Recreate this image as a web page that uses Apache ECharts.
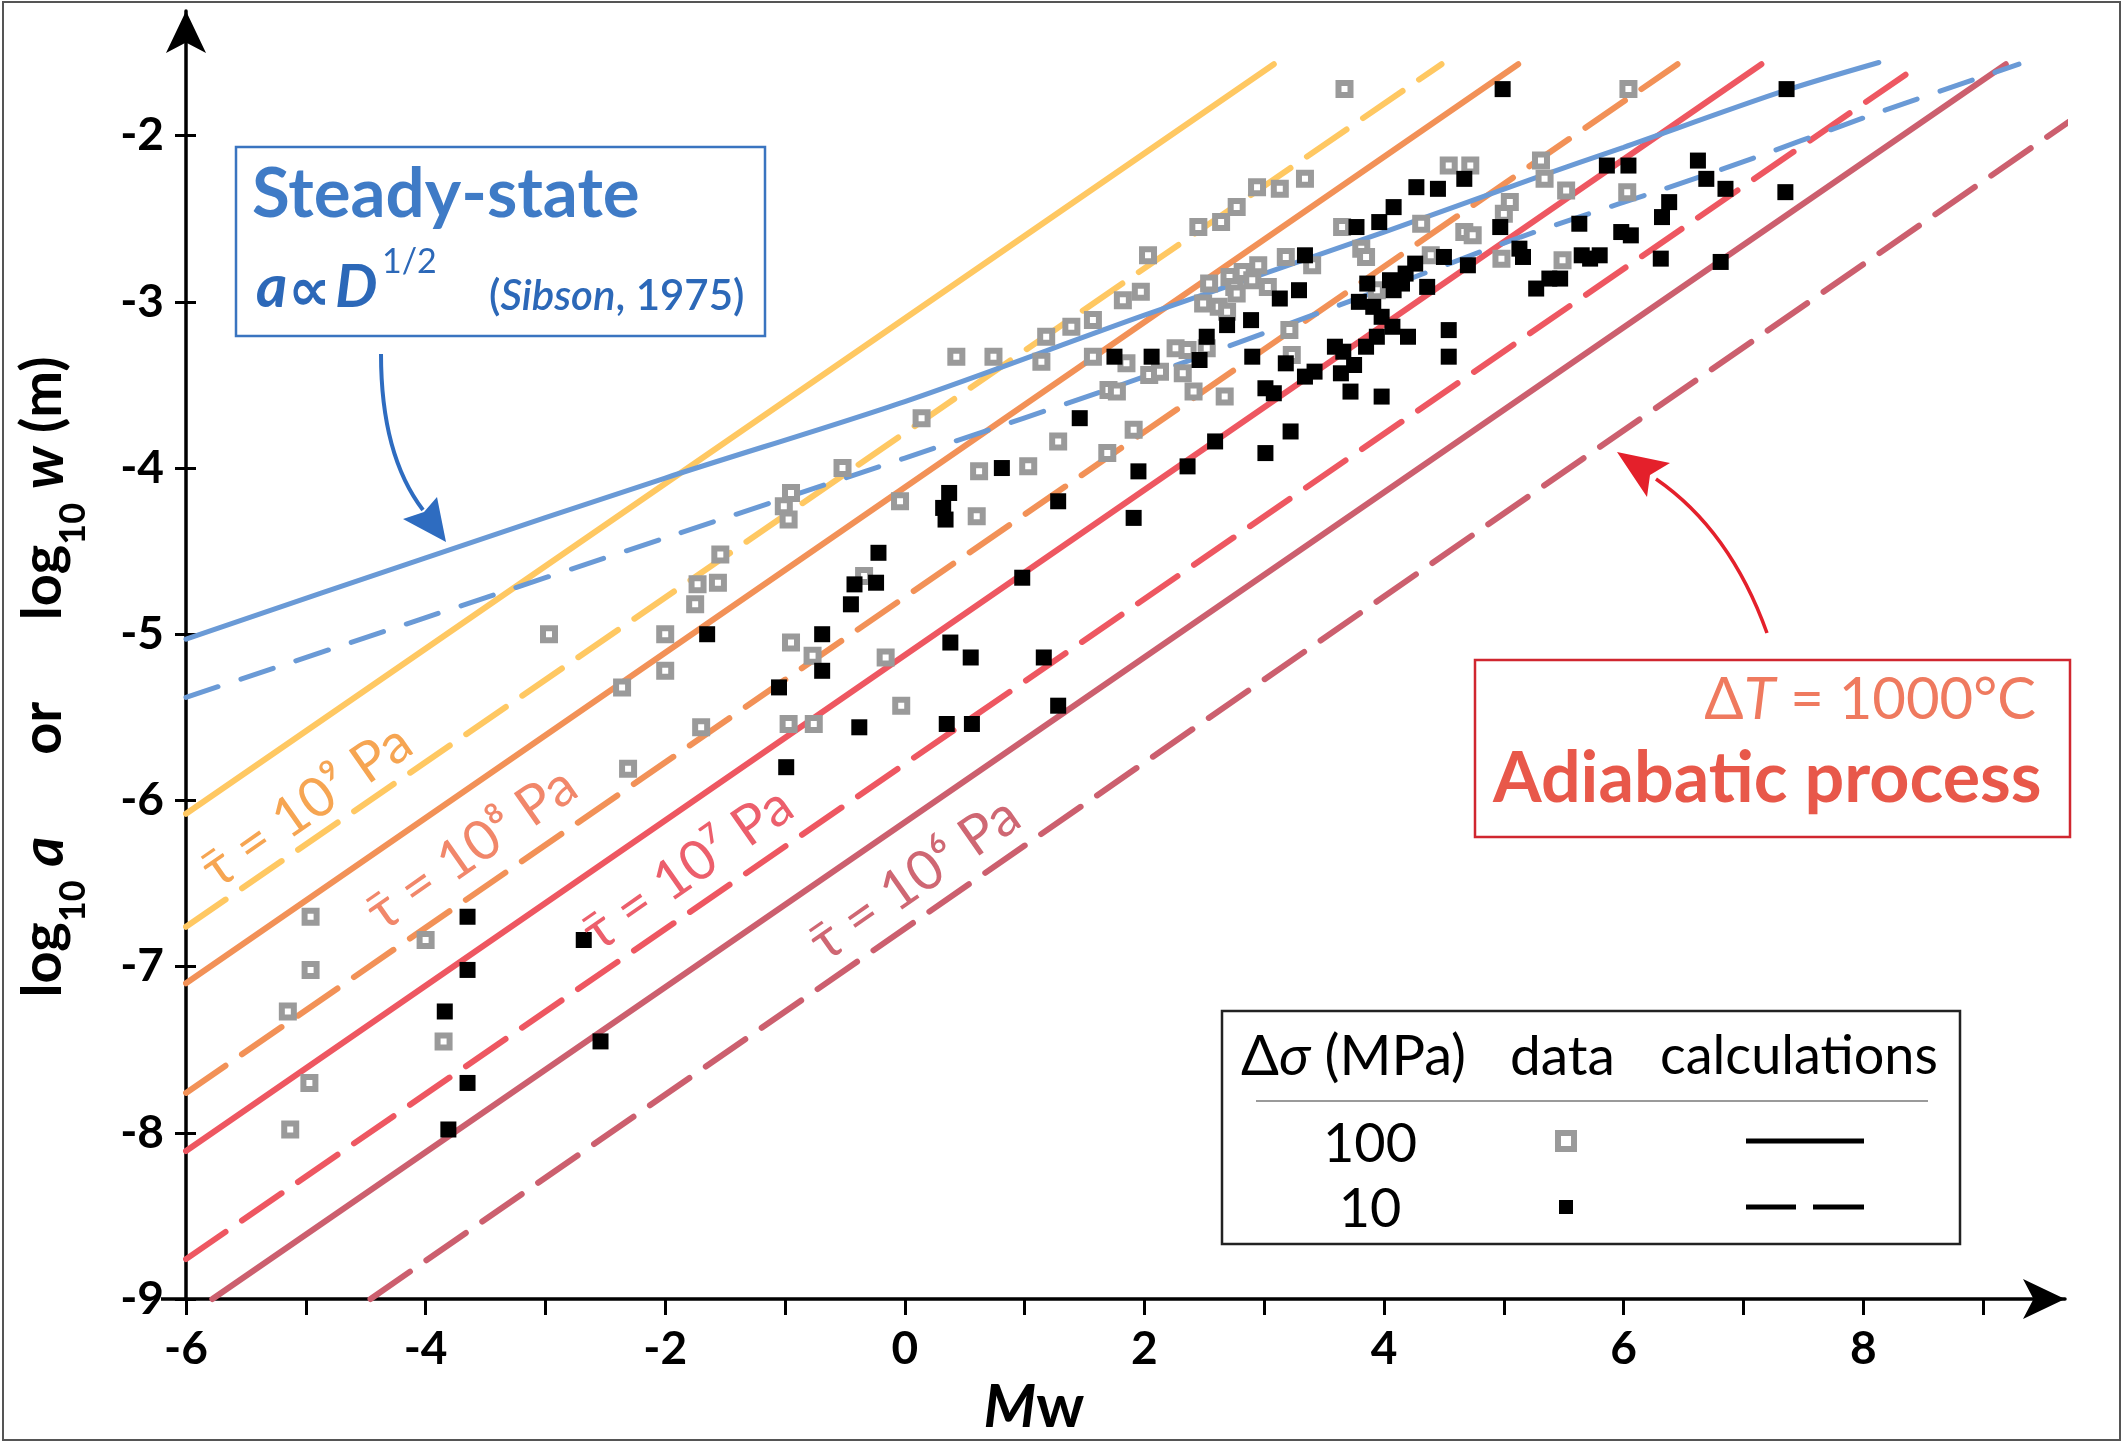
<!DOCTYPE html>
<html>
<head>
<meta charset="utf-8">
<script src="https://cdn.jsdelivr.net/npm/echarts@6.0.0/dist/echarts.min.js"></script>
<style>html,body{margin:0;padding:0;background:#fff;}#chart{width:2128px;height:1447px;}</style>
</head>
<body>
<div id="chart"></div>
<script>
// ---------------- data ----------------
const xTicks = [-6,-5,-4,-3,-2,-1,0,1,2,3,4,5,6,7,8,9];
const xTickLabels = [-6,-4,-2,0,2,4,6,8];
const yTicks = [-9,-8,-7,-6,-5,-4,-3,-2];

// data, Δσ = 100 MPa (grey open squares)  [Mw, log10 a]
const data100 = [
[-5.15,-7.27],[-5.13,-7.98],[-4.96,-6.70],[-4.96,-7.02],[-4.97,-7.70],[-4.00,-6.84],[-3.85,-7.45],
[-2.97,-5.00],[-2.36,-5.32],[-2.31,-5.81],[-2.00,-5.00],[-2.00,-5.22],[-1.75,-4.82],[-1.73,-4.70],[-1.56,-4.69],[-1.54,-4.52],[-1.70,-5.56],
[-1.01,-4.23],[-0.97,-4.31],[-0.95,-4.15],[-0.95,-5.05],[-0.97,-5.54],[-0.77,-5.13],[-0.76,-5.54],[-0.52,-4.00],[-0.34,-4.65],[-0.16,-5.14],[-0.04,-4.20],[-0.03,-5.43],
[0.14,-3.70],[0.43,-3.33],[0.60,-4.29],[0.62,-4.02],[0.74,-3.33],[1.03,-3.99],[1.14,-3.36],[1.18,-3.21],[1.28,-3.84],[1.39,-3.15],[1.57,-3.11],[1.57,-3.33],
[1.69,-3.91],[1.70,-3.53],[1.77,-3.54],[1.82,-2.99],[1.85,-3.37],[1.91,-3.77],[1.97,-2.94],[2.03,-2.72],[2.04,-3.44],[2.13,-3.42],[2.26,-3.28],[2.32,-3.43],
[2.36,-3.29],[2.41,-3.54],[2.45,-2.55],[2.49,-3.01],[2.52,-3.28],[2.54,-2.89],[2.62,-3.03],[2.64,-2.52],[2.67,-3.57],[2.69,-3.06],[2.71,-2.85],[2.75,-2.91],
[2.77,-2.43],[2.77,-2.95],[2.82,-2.82],[2.90,-2.87],[2.94,-2.31],[2.95,-2.78],[3.03,-2.91],[3.13,-2.32],[3.18,-2.73],[3.21,-3.17],[3.23,-3.32],[3.34,-2.26],
[3.40,-2.78],[3.65,-2.55],[3.67,-1.72],[3.81,-2.68],[3.85,-2.73],[3.94,-2.93],[4.31,-2.53],[4.39,-2.72],[4.54,-2.18],[4.67,-2.58],[4.72,-2.18],[4.74,-2.60],
[4.98,-2.74],[5.00,-2.47],[5.05,-2.40],[5.31,-2.15],[5.34,-2.26],[5.49,-2.75],[5.52,-2.33],[6.03,-2.34],[6.04,-1.72]
];

// data, Δσ = 10 MPa (black squares)
const data10 = [
[-3.65,-6.70],[-2.68,-6.84],[-3.65,-7.02],[-3.84,-7.27],[-2.54,-7.45],[-3.65,-7.70],[-3.81,-7.98],
[-1.65,-5.00],[-1.05,-5.32],[-0.99,-5.80],[-0.69,-5.00],[-0.69,-5.22],[-0.45,-4.82],[-0.42,-4.70],[-0.38,-5.56],[-0.24,-4.69],[-0.22,-4.51],
[0.32,-4.24],[0.34,-4.31],[0.37,-4.15],[0.38,-5.05],[0.35,-5.54],[0.55,-5.14],[0.56,-5.54],[0.81,-4.00],[0.98,-4.66],[1.16,-5.14],[1.28,-4.20],[1.28,-5.43],
[1.46,-3.70],[1.75,-3.33],[1.91,-4.30],[1.95,-4.02],[2.06,-3.33],[2.36,-3.99],[2.46,-3.35],[2.52,-3.21],[2.59,-3.84],[2.69,-3.14],[2.89,-3.11],[2.90,-3.33],
[3.01,-3.52],[3.01,-3.91],[3.08,-3.55],[3.13,-2.98],[3.18,-3.37],[3.22,-3.78],[3.29,-2.93],[3.34,-2.72],[3.34,-3.45],[3.42,-3.42],[3.59,-3.27],[3.64,-3.43],
[3.66,-3.30],[3.72,-3.54],[3.75,-3.38],[3.77,-2.55],[3.79,-3.00],[3.85,-3.27],[3.86,-2.89],[3.91,-3.03],[3.94,-3.21],[3.96,-2.52],[3.98,-3.09],[3.98,-3.57],
[4.05,-2.87],[4.07,-3.15],[4.08,-2.43],[4.08,-2.93],[4.15,-2.89],[4.18,-2.83],[4.20,-3.21],[4.26,-2.77],[4.27,-2.31],[4.36,-2.91],[4.45,-2.32],[4.50,-2.73],
[4.54,-3.17],[4.54,-3.33],[4.67,-2.26],[4.70,-2.78],[4.97,-2.55],[4.99,-1.72],[5.13,-2.68],[5.16,-2.73],[5.27,-2.92],[5.38,-2.86],[5.47,-2.86],[5.63,-2.53],
[5.65,-2.72],[5.72,-2.74],[5.80,-2.72],[5.86,-2.18],[5.98,-2.58],[6.04,-2.18],[6.06,-2.60],[6.31,-2.74],[6.32,-2.49],[6.38,-2.40],[6.62,-2.15],[6.69,-2.26],
[6.81,-2.76],[6.85,-2.32],[7.35,-2.34],[7.36,-1.72]
];

// adiabatic calculations (end points of straight lines), solid = 100 MPa, dashed = 10 MPa
const tau9_100 = [[-6,-6.08],[3.08,-1.57]];
const tau9_10  = [[-6,-6.76],[4.48,-1.57]];
const tau8_100 = [[-6,-7.10],[5.12,-1.57]];
const tau8_10  = [[-6,-7.76],[6.45,-1.57]];
const tau7_100 = [[-6,-8.11],[7.15,-1.57]];
const tau7_10  = [[-6,-8.76],[8.48,-1.57]];
const tau6_100 = [[-5.78,-9],[9.19,-1.57]];
const tau6_10  = [[-4.46,-9],[9.89,-1.83]];

// steady-state (Sibson, 1975) curves
const steady100 = [[-6,-5.03],[-4,-4.54],[-2,-4.06],[0,-3.60],[2,-3.08],[4,-2.58],[5.28,-2.25],[6,-2.07],[7.3,-1.74],[8.13,-1.56]];
const steady10  = [[-6,-5.38],[-4,-4.90],[-2,-4.42],[0,-3.94],[2,-3.45],[4,-2.92],[5.14,-2.61],[6.79,-2.21],[8.17,-1.85],[9.30,-1.57]];

const tauLabels = ['τ\u0304 = 10⁹ Pa','τ\u0304 = 10⁸ Pa','τ\u0304 = 10⁷ Pa','τ\u0304 = 10⁶ Pa'];

// ---------------- styling ----------------
const FONT = 'Lato, "Noto Sans", "DejaVu Sans", sans-serif';
const C = {yellow:'#FFC862', orange:'#F29157', red:'#EE5761', rose:'#CC5F6E', blue:'#6A9AD6'};
const LBL = ['#F6A552','#F1876A','#EC5F6C','#CF6773'];
const DASH = [48, 20];

function calcLine(name, data, color, dashed){
  return {type:'line', name, data, showSymbol:false, silent:true, clip:false, z:2, animation:false,
    lineStyle:{color, width:6, type: dashed ? DASH : 'solid', cap:'round'}};
}
function steadyLine(name, data, dashed){
  return {type:'line', name, data, showSymbol:false, silent:true, clip:false, z:3, animation:false, smooth:0.3,
    lineStyle:{color:C.blue, width:5, type: dashed ? [34,24] : 'solid', cap:'round'}};
}

const chart = echarts.init(document.getElementById('chart'), null, {renderer:'canvas', width:2128, height:1447});

const axisLineStyle = {color:'#000', width:3.5};
const labelStyle = {fontFamily:FONT, fontWeight:'bold', fontSize:46, color:'#000'};

function txt(x, y, text, opts){
  return Object.assign({type:'text', x, y, silent:true, z:100,
    style:Object.assign({text, fill:'#000', fontFamily:FONT, fontSize:40,
      align:'left', verticalAlign:'middle', textAlign:'left', textVerticalAlign:'middle'}, opts.style||{})},
    opts.rotation!=null?{rotation:opts.rotation}:{});
}

const graphics = [
  // outer frame
  {type:'rect', shape:{x:3,y:2,width:2117,height:1438}, style:{fill:'none', stroke:'#555', lineWidth:2}, silent:true, z:0},
  // x axis stub left of the y axis
  {type:'line', shape:{x1:161,y1:1299,x2:186,y2:1299}, style:{stroke:'#000', lineWidth:3.5}, silent:true, z:50},

  // Steady-state box
  {type:'rect', shape:{x:236,y:147,width:529,height:189}, style:{fill:'#fff', stroke:'#3A74C0', lineWidth:2.5}, silent:true, z:90},
  txt(252, 195, 'Steady-state', {style:{fill:'#3F7BC6', fontSize:69, fontWeight:'bold'}}),
  txt(256, 288, 'a', {style:{fill:'#2C68B8', fontSize:60, fontWeight:'bold', fontStyle:'italic'}}),
  txt(288, 291, '∝', {style:{fill:'#2C68B8', fontSize:60, fontWeight:'bold', fontStyle:'italic'}}),
  txt(335, 288, 'D', {style:{fill:'#2C68B8', fontSize:60, fontWeight:'bold', fontStyle:'italic'}}),
  txt(382, 262, '1/2', {style:{fill:'#2C68B8', fontSize:34}}),
  txt(489, 296, '{p|(}{i|Sibson}{p|, 1975)}', {style:{fill:'#2C68B8', fontSize:42, fontWeight:600,
      rich:{p:{fontFamily:FONT, fontSize:42, fontWeight:600, fill:'#2C68B8'}, i:{fontFamily:FONT, fontSize:42, fontWeight:600, fontStyle:'italic', fill:'#2C68B8'}}}}),
  // blue arrow
  {type:'bezierCurve', shape:{x1:381,y1:354,cpx1:381,cpy1:455,x2:423,y2:510}, style:{fill:'none', stroke:'#2E6CC0', lineWidth:4}, silent:true, z:95},
  {type:'polygon', shape:{points:[[446,542],[403,519],[424,512],[437,497]]}, style:{fill:'#2E6CC0'}, silent:true, z:95},

  // Adiabatic box
  {type:'rect', shape:{x:1475,y:660,width:595,height:177}, style:{fill:'#fff', stroke:'#D0262F', lineWidth:2.5}, silent:true, z:90},
  txt(2036, 700, '{d|Δ}{t|T}{d| = 1000°C}', {style:{align:'right', textAlign:'right', fill:'#EF7A5F', fontSize:58,
      rich:{d:{fontFamily:FONT, fontSize:58, fill:'#EF7A5F'}, t:{fontFamily:FONT, fontSize:58, fontStyle:'italic', fill:'#EF7A5F'}}}}),
  txt(1493, 779, 'Adiabatic process', {style:{fill:'#E8584A', fontSize:70, fontWeight:'bold'}}),
  // red arrow
  {type:'bezierCurve', shape:{x1:1767,y1:633,cpx1:1730,cpy1:530,x2:1656,y2:479}, style:{fill:'none', stroke:'#E4202B', lineWidth:3.5}, silent:true, z:95},
  {type:'polygon', shape:{points:[[1617,452],[1670,463],[1650,475],[1647,497]]}, style:{fill:'#E4202B'}, silent:true, z:95},

  // tau labels along the lines
  txt(307, 806, tauLabels[0], {rotation:0.61, style:{align:'center', textAlign:'center', fill:LBL[0], fontSize:55}}),
  txt(472, 849, tauLabels[1], {rotation:0.61, style:{align:'center', textAlign:'center', fill:LBL[1], fontSize:55}}),
  txt(688, 869, tauLabels[2], {rotation:0.61, style:{align:'center', textAlign:'center', fill:LBL[2], fontSize:55}}),
  txt(915, 879, tauLabels[3], {rotation:0.61, style:{align:'center', textAlign:'center', fill:LBL[3], fontSize:55}}),

  // legend table
  {type:'rect', shape:{x:1222,y:1011,width:738,height:233}, style:{fill:'#fff', stroke:'#222', lineWidth:2.5}, silent:true, z:90},
  txt(1241, 1057, '{n|Δ}{s|σ}{n| (MPa)}', {style:{fontSize:56, rich:{n:{fontFamily:FONT, fontSize:56, fill:'#000'}, s:{fontFamily:FONT, fontSize:56, fontStyle:'italic', fill:'#000'}}}}),
  txt(1510, 1057, 'data', {style:{fontSize:55}}),
  txt(1660, 1057, 'calculations', {style:{fontSize:54}}),
  {type:'line', shape:{x1:1256,y1:1101,x2:1928,y2:1101}, style:{stroke:'#9a9a9a', lineWidth:2}, silent:true, z:95},
  txt(1370, 1145, '100', {style:{align:'center', textAlign:'center', fontSize:54}}),
  txt(1370, 1210, '10', {style:{align:'center', textAlign:'center', fontSize:54}}),
  {type:'rect', shape:{x:1558,y:1133,width:16,height:16}, style:{fill:'#fff', stroke:'#9a9a9a', lineWidth:6}, silent:true, z:95},
  {type:'rect', shape:{x:1559,y:1200,width:14,height:14}, style:{fill:'#000'}, silent:true, z:95},
  {type:'line', shape:{x1:1746,y1:1141,x2:1864,y2:1141}, style:{stroke:'#000', lineWidth:5}, silent:true, z:95},
  {type:'line', shape:{x1:1746,y1:1207,x2:1796,y2:1207}, style:{stroke:'#000', lineWidth:5}, silent:true, z:95},
  {type:'line', shape:{x1:1813,y1:1207,x2:1864,y2:1207}, style:{stroke:'#000', lineWidth:5}, silent:true, z:95},

  // axis titles
  txt(1034, 1408, '{m|M}{w|w}', {style:{align:'center', textAlign:'center', fontSize:60,
      rich:{m:{fontFamily:FONT, fontSize:60, fontWeight:'bold', fontStyle:'italic', fill:'#000'}, w:{fontFamily:FONT, fontSize:60, fontWeight:'bold', fill:'#000'}}}}),
  txt(47, 677, '{m|log}{s|10}{m| }{i|a}{m|      or      log}{s|10}{m| }{i|w}{m| (m)}', {rotation:Math.PI/2, style:{align:'center', textAlign:'center', fontSize:56,
      rich:{
        m:{fontFamily:FONT, fontSize:56, fontWeight:'bold', fill:'#000', lineHeight:64, verticalAlign:'top'},
        i:{fontFamily:FONT, fontSize:58, fontWeight:'bold', fontStyle:'italic', fill:'#000', lineHeight:64, verticalAlign:'top'},
        s:{fontFamily:FONT, fontSize:36, fontWeight:'bold', fill:'#000', lineHeight:36, verticalAlign:'top', padding:[40,0,0,0]}
      }}})
];

const option = {
  animation:false,
  backgroundColor:'#fff',
  grid:{left:186, right:63, top:11, bottom:148, containLabel:false},
  xAxis:{type:'value', min:-6, max:9.684,
    axisLine:{onZero:false, lineStyle:axisLineStyle, symbol:['none','arrow'], symbolSize:[30,42]},
    axisTick:{show:true, customValues:xTicks, length:16, lineStyle:{color:'#000', width:3}},
    axisLabel:Object.assign({customValues:xTickLabels, margin:27, formatter:v=>String(v)}, labelStyle),
    splitLine:{show:false}},
  yAxis:[
    {type:'value', min:-9, max:-1.25,
      axisLine:{onZero:false, lineStyle:axisLineStyle, symbol:['none','arrow'], symbolSize:[30,42]},
      axisTick:{show:true, customValues:yTicks, length:11, lineStyle:{color:'#000', width:3}},
      axisLabel:Object.assign({customValues:yTicks, margin:22, formatter:v=>String(v)}, labelStyle),
      splitLine:{show:false}},
    {type:'value', min:-9, max:-1.25, position:'left',
      axisLine:{show:false, onZero:false},
      axisTick:{show:true, inside:true, customValues:yTicks, length:10, lineStyle:{color:'#000', width:3}},
      axisLabel:{show:false}, splitLine:{show:false}}
  ],
  series:[
    calcLine('τ=10⁹ Pa, 100 MPa', tau9_100, C.yellow, false),
    calcLine('τ=10⁹ Pa, 10 MPa',  tau9_10,  C.yellow, true),
    calcLine('τ=10⁸ Pa, 100 MPa', tau8_100, C.orange, false),
    calcLine('τ=10⁸ Pa, 10 MPa',  tau8_10,  C.orange, true),
    calcLine('τ=10⁷ Pa, 100 MPa', tau7_100, C.red, false),
    calcLine('τ=10⁷ Pa, 10 MPa',  tau7_10,  C.red, true),
    calcLine('τ=10⁶ Pa, 100 MPa', tau6_100, C.rose, false),
    calcLine('τ=10⁶ Pa, 10 MPa',  tau6_10,  C.rose, true),
    steadyLine('steady-state 100 MPa', steady100, false),
    steadyLine('steady-state 10 MPa', steady10, true),
    {type:'scatter', name:'data 100 MPa', data:data100, symbol:'rect', symbolSize:12, z:5, silent:true,
      itemStyle:{color:'#fff', borderColor:'#9a9a9a', borderWidth:6, opacity:1}},
    {type:'scatter', name:'data 10 MPa', data:data10, symbol:'rect', symbolSize:16, z:6, silent:true,
      itemStyle:{color:'#000', opacity:1}}
  ],
  graphic:graphics
};
chart.setOption(option);
</script>
</body>
</html>
